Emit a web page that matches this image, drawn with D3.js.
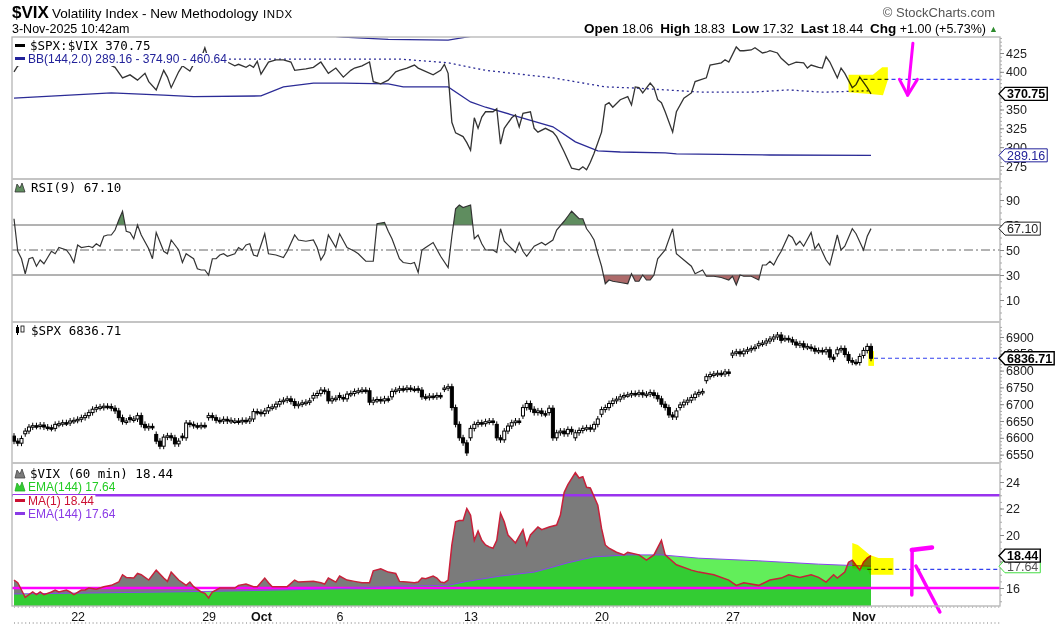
<!DOCTYPE html>
<html>
<head>
<meta charset="utf-8">
<script src="https://cdn.jsdelivr.net/npm/d3@7/dist/d3.min.js"></script>
<style>
  body { margin: 0; background: #fff; }
  svg { display: block; font-family: "Liberation Sans", Arial, sans-serif; }
  .mono { font-family: "DejaVu Sans Mono", monospace; }
</style>
</head>
<body>
<svg id="chart" width="1062" height="625"></svg>
<script>
// bar index = one 60-min bar, 0 = Sep 17 afternoon, 229 = Nov 3 10:30
const ratioPts = [[0,400],[1,408],[7,416],[15,413],[22,418],[27,406],[29,392],[31,396],[33,389],[35,398],[36,387],[38,376],[40,402],[41,393],[42,379],[44,400],[45,408],[47,401],[48,410],[50,418],[51,432],[52,416],[54,418],[57,413],[59,408],[60,410],[62,406],[63,409],[64,406],[65,414],[66,397],[68,413],[70,416],[72,416],[74,413],[75,402],[78,404],[80,406],[82,413],[84,398],[86,405],[88,393],[90,402],[91,405],[93,408],[95,413],[96,387],[98,384],[100,389],[102,400],[103,402],[105,405],[107,409],[108,405],[112,396],[114,402],[115,410],[116,398],[117,333],[118,319],[120,314],[121,306],[122,296],[123,339],[124,325],[125,340],[126,347],[128,347],[129,351],[130,304],[131,325],[133,339],[134,343],[135,327],[136,345],[138,347],[139,325],[140,320],[142,325],[144,320],[145,314],[147,294],[148,283],[149,272],[151,270],[152,274],[153,270],[154,280],[155,292],[157,320],[158,356],[159,359],[160,353],[162,363],[164,367],[165,356],[166,380],[167,379],[168,372],[170,385],[171,379],[172,363],[173,359],[174,347],[176,320],[177,347],[179,365],[181,372],[182,387],[185,392],[186,409],[187,410],[189,412],[190,416],[191,413],[193,433],[194,428],[195,428],[197,429],[198,432],[200,425],[201,426],[202,428],[204,425],[205,418],[207,409],[209,413],[211,412],[212,405],[213,409],[215,406],[216,405],[217,420],[218,413],[220,392],[221,405],[222,398],[224,379],[225,383],[226,393],[228,379],[229,370.75]];
const bbUpper = [[0,461],[48,467],[72,454],[88,446],[100,443],[116,442],[122,447],[126,452],[144,457],[150,467],[166,465],[184,454],[207,462],[229,460.64]];
const bbMid = [[0,413],[30,416],[57,417],[76,417],[103,417],[116,412],[126,402],[144,392],[158,380],[166,378.5],[184,373],[197,373],[207,376],[216,373],[229,374.9]];
const bbLower = [[0,365],[26,372],[40,369],[48,367],[66,368],[72,380],[80,385],[88,385],[100,384],[104,380],[116,380],[122,360],[126,353],[133,343],[144,327],[150,307],[156,295],[162,293.6],[174,292.3],[177,291],[202,289.6],[229,289.16]];

const rsiPts = [[0,75],[1,49],[2,43],[3,31],[4,43],[5,44],[6,37],[7,42],[8,39],[9,44],[10,49],[11,47],[12,52],[14,50],[15,46],[16,40],[17,54],[18,52],[20,53],[21,52],[22,55],[23,53],[24,61],[25,62],[26,62],[27,66],[28,74],[29,81],[30,65],[31,64],[32,59],[33,70],[34,62],[36,51],[37,43],[38,64],[40,49],[41,47],[42,58],[44,50],[45,40],[46,47],[48,43],[49,35],[50,34],[51,34],[52,30],[53,43],[54,43],[55,46],[56,47],[57,45],[59,47],[60,52],[61,50],[62,54],[63,55],[64,46],[65,45],[67,63],[68,47],[70,46],[72,44],[73,49],[75,62],[76,58],[78,57],[80,58],[81,52],[82,42],[83,47],[84,62],[86,52],[87,63],[89,52],[91,49],[92,47],[94,41],[96,41],[97,71],[99,72],[100,65],[101,59],[103,43],[104,40],[106,39],[107,40],[108,32],[109,50],[110,52],[112,56],[114,45],[116,36],[117,61],[118,83],[119,86],[120,84],[122,86],[123,59],[124,62],[125,55],[126,50],[128,50],[129,48],[130,67],[131,57],[133,51],[134,48],[135,56],[136,49],[137,45],[139,53],[141,56],[142,54],[144,58],[145,66],[147,73],[148,77],[149,81],[151,75],[152,75],[153,67],[154,63],[155,58],[156,47],[157,37],[158,23],[159,26],[160,25],[162,24],[164,23],[165,31],[166,25],[167,25],[168,30],[169,26],[170,26],[171,30],[172,43],[174,50],[176,67],[177,47],[179,42],[181,37],[182,31],[184,34],[185,29],[187,29],[189,28],[191,26],[192,29],[193,22],[194,30],[195,29],[197,29],[199,26],[200,38],[201,38],[202,41],[203,38],[204,44],[205,49],[207,62],[208,60],[209,54],[210,57],[211,53],[213,64],[214,51],[215,55],[217,42],[218,38],[219,50],[220,62],[221,50],[222,53],[224,67],[225,63],[227,50],[228,61],[229,67.1]];

// $SPX hourly closes, one row per session
const spxClose = [
  6590, 6584, 6598,
  6620, 6632, 6636, 6634, 6638, 6632, 6630,
  6628, 6640, 6642, 6645, 6644, 6650, 6652,
  6655, 6660, 6666, 6675, 6685, 6690, 6692,
  6694, 6693, 6688, 6680, 6660, 6648, 6650,
  6654, 6656, 6666, 6640, 6630, 6634, 6632,
  6590, 6575, 6602, 6606, 6600, 6582, 6590,
  6600, 6644, 6640, 6636, 6634, 6637, 6636,
  6666, 6660, 6652, 6650, 6655, 6650, 6652,
  6650, 6648, 6652, 6650, 6656, 6678, 6676,
  6672, 6680, 6690, 6692, 6700, 6708, 6712,
  6716, 6708, 6696, 6700, 6704, 6706, 6710,
  6726, 6732, 6742, 6738, 6710, 6716, 6718,
  6720, 6716, 6730, 6732, 6738, 6740, 6742,
  6740, 6706, 6712, 6714, 6710, 6716, 6714,
  6738, 6742, 6746, 6744, 6748, 6745, 6744,
  6742, 6722, 6720, 6724, 6722, 6726, 6724,
  6748, 6752, 6690, 6640, 6600, 6585, 6555,
  6628, 6640, 6645, 6642, 6648, 6650, 6646,
  6600, 6594, 6620, 6635, 6645, 6650, 6648,
  6690, 6702, 6685, 6675, 6680, 6672, 6670,
  6688, 6600, 6615, 6620, 6612, 6625, 6618,
  6615, 6622, 6628, 6630, 6626, 6640, 6656,
  6684, 6690, 6702, 6710, 6715, 6722, 6726,
  6728, 6732, 6730, 6734, 6728, 6730, 6735,
  6726, 6716, 6700, 6690, 6668, 6662, 6680,
  6698, 6706, 6712, 6720, 6730, 6735, 6738,
  6782, 6788, 6790, 6792, 6790, 6796, 6792,
  6852, 6856, 6850, 6858, 6862, 6866, 6870,
  6880, 6882, 6888, 6894, 6900, 6906, 6890,
  6896, 6892, 6885, 6876, 6880, 6870, 6872,
  6866, 6858, 6860, 6856, 6862, 6840, 6834,
  6862, 6866, 6848, 6830, 6825, 6824, 6842,
  6860, 6872, 6836.71
];
// opening print of each session (first bar of the day)
const spxDayOpen = [6605, 6612, 6630, 6652, 6690, 6660, 6610, 6605, 6660, 6650, 6676, 6712, 6718, 6726, 6742, 6722, 6746, 6745, 6600, 6640, 6665, 6675, 6600, 6670, 6728, 6734, 6690, 6770, 6846, 6874, 6894, 6870, 6850, 6845];

const vixPts = [[0,16.6],[1,16.4],[2,15.85],[3,15.3],[5,15.7],[6,15.5],[7,15.7],[8,15.5],[10,15.7],[11,15.85],[12,15.7],[14,15.85],[15,15.7],[16,15.5],[18,15.85],[19,15.85],[20,16.0],[22,15.9],[24,16.1],[26,16.2],[28,16.45],[29,17.0],[30,16.8],[32,16.75],[33,17.1],[34,17.0],[36,16.6],[38,17.35],[40,16.75],[41,16.5],[42,17.2],[44,16.6],[46,16.2],[47,16.45],[48,16.1],[50,15.7],[51,15.6],[52,15.25],[53,15.7],[55,16.0],[57,16.0],[59,16.0],[60,16.2],[62,16.3],[64,16.1],[65,16.1],[67,16.75],[68,16.4],[69,16.1],[71,16.1],[73,16.1],[75,16.6],[76,16.45],[80,16.5],[82,16.4],[83,16.3],[84,16.75],[86,16.45],[87,16.9],[89,16.6],[91,16.5],[93,16.4],[95,16.4],[96,17.3],[98,17.45],[100,17.2],[102,17.1],[103,16.5],[105,16.45],[107,16.4],[108,16.45],[109,16.75],[110,16.7],[112,16.9],[113,16.75],[114,16.45],[115,16.4],[116,16.6],[117,19.25],[118,21.0],[119,21.1],[120,21.1],[121,22.0],[122,21.5],[123,19.6],[124,20.3],[125,19.6],[126,19.25],[127,19.1],[128,19.0],[129,19.6],[130,21.65],[131,21.0],[132,20.0],[134,19.4],[136,20.4],[137,19.25],[138,20.0],[140,20.6],[141,20.4],[143,20.6],[145,20.75],[146,21.5],[147,23.2],[148,23.8],[150,24.7],[151,24.3],[152,24.4],[153,23.6],[154,23.55],[156,22.25],[157,20.5],[158,19.25],[159,19.0],[161,18.7],[163,18.5],[164,18.7],[167,18.5],[169,18.1],[171,18.5],[173,19.6],[174,18.5],[177,17.75],[181,17.35],[183,17.2],[187,17.0],[191,16.6],[193,16.2],[195,16.4],[199,16.2],[202,16.6],[205,16.75],[207,17.0],[210,16.8],[213,17.0],[215,16.8],[217,16.45],[219,17.0],[220,16.75],[222,17.2],[223,17.95],[224,18.1],[226,17.35],[227,17.95],[228,18.25],[229,18.44]];
const vixEma = [[0,15.55],[27,15.65],[53,15.75],[80,15.9],[92,16.0],[104,16.15],[116,16.2],[121,16.5],[130,16.9],[139,17.2],[143,17.5],[148,17.9],[155,18.35],[164,18.5],[173,18.5],[183,18.25],[199,18.05],[215,17.8],[229,17.64]];

const xTickBars = [17, 52, 66, 87, 122, 157, 192, 227];
const xTickLabels = ["22", "29", "Oct", "6", "13", "20", "27", "Nov"];
const ratioTicks = [275, 300, 325, 350, 375, 400, 425];
const rsiTicks = [10, 30, 50, 70, 90];
const spxTicks = [6550, 6600, 6650, 6700, 6750, 6800, 6850, 6900];
const vixTicks = [16, 18, 20, 22, 24];
// tick labels that sit fully under a value tag in the original
const hiddenTickLabels = [375, 18];

// hand-drawn markup on the chart (bar, value)
const ratioMarkLevel = 390, vixMarkLevel = 17.4;
const yellowRatio = [[223,396],[229.5,396],[232,406],[233.5,406],[233.5,389],[232.2,369],[228.7,370.5],[223,373]];
const yellowVix = [[224,19.4],[225.5,19.25],[228.7,18.5],[231,18.26],[235,18.26],[235,17.0],[228.7,17.0],[228.2,17.36],[224,17.5]];
const yellowSpx = [[228.3,6858],[229.8,6858],[229.8,6814],[228.3,6814]];
const arrowRatio = [[[240.2,438],[238.8,369]], [[236.6,390],[238.8,369],[241.4,390]]];
const squiggleVix = [[[239.9,18.87],[242,18.95],[245.3,19.05]], [[240,18.9],[239.9,15.47]], [[241,17.66],[247.4,14.19]]];

const svg = d3.select("#chart");
const L = 12, R = 1000;
const panels = [
  {top: 37, bottom: 179},
  {top: 179, bottom: 322},
  {top: 322, bottom: 463},
  {top: 463, bottom: 606}
];

const x = d3.scaleLinear().domain([0, 229]).range([14, 871]);
const y1 = d3.scaleLinear().domain([275, 425]).range([166, 53]);
const y2 = d3.scaleLinear().domain([30, 70]).range([275, 225]);
const y3 = d3.scaleLinear().domain([6550, 6900]).range([454.6, 337]);
const y4 = d3.scaleLinear().domain([16, 24]).range([588, 482]);

const lineOf = ys => d3.line().x(d => x(d[0])).y(d => ys(d[1]));

const defs = svg.append("defs");
panels.forEach((p, k) => {
  defs.append("clipPath").attr("id", "clip" + k)
    .append("rect").attr("x", L).attr("y", p.top).attr("width", R - L).attr("height", p.bottom - p.top);
});
defs.append("clipPath").attr("id", "rsiHi")
  .append("rect").attr("x", L).attr("y", panels[1].top).attr("width", R - L).attr("height", y2(70) - panels[1].top);
defs.append("clipPath").attr("id", "rsiLo")
  .append("rect").attr("x", L).attr("y", y2(30)).attr("width", R - L).attr("height", panels[1].bottom - y2(30));

// ---------- panel 1: $SPX:$VIX with Bollinger bands ----------
const g1 = svg.append("g").attr("clip-path", "url(#clip0)");
const l1 = lineOf(y1);
[[bbUpper, null], [bbMid, "2,3"], [bbLower, null]].forEach(([d, dash]) => {
  g1.append("path").datum(d).attr("d", l1).attr("fill", "none")
    .attr("stroke", "#2b2b96").attr("stroke-width", 1.3).attr("stroke-dasharray", dash);
});
g1.append("line").attr("x1", x(227)).attr("x2", R)
  .attr("y1", y1(ratioMarkLevel)).attr("y2", y1(ratioMarkLevel))
  .attr("stroke", "#3340ee").attr("stroke-width", 1.2).attr("stroke-dasharray", "4,3");
g1.append("path").datum(ratioPts).attr("d", l1).attr("fill", "none")
  .attr("stroke", "#333").attr("stroke-width", 1.3);

// ---------- panel 2: RSI(9) ----------
const g2 = svg.append("g").attr("clip-path", "url(#clip1)");
g2.append("g").attr("clip-path", "url(#rsiHi)").append("path").datum(rsiPts)
  .attr("d", d3.area().x(d => x(d[0])).y0(y2(70)).y1(d => y2(d[1])))
  .attr("fill", "#5f8d5f");
g2.append("g").attr("clip-path", "url(#rsiLo)").append("path").datum(rsiPts)
  .attr("d", d3.area().x(d => x(d[0])).y0(y2(30)).y1(d => y2(d[1])))
  .attr("fill", "#ad6a6a");
[[70, null], [50, "9,3,2,3"], [30, null]].forEach(([v, dash]) => {
  g2.append("line").attr("x1", L).attr("x2", R).attr("y1", y2(v)).attr("y2", y2(v))
    .attr("stroke", "#666").attr("stroke-width", 1).attr("stroke-dasharray", dash);
});
g2.append("path").datum(rsiPts).attr("d", lineOf(y2)).attr("fill", "none")
  .attr("stroke", "#333").attr("stroke-width", 1.2);

// ---------- panel 3: $SPX candles ----------
const g3 = svg.append("g").attr("clip-path", "url(#clip2)");
const candles = spxClose.map((c, i) => {
  const dayStart = i === 0 || (i >= 3 && (i - 3) % 7 === 0);
  const day = i === 0 ? 0 : Math.floor((i - 3) / 7) + 1;
  const o = dayStart ? spxDayOpen[day] : spxClose[i - 1];
  return {i, o, c};
});
g3.append("line").attr("x1", x(229) + 3).attr("x2", R)
  .attr("y1", y3(6836.71)).attr("y2", y3(6836.71))
  .attr("stroke", "#3340ee").attr("stroke-width", 1.2).attr("stroke-dasharray", "4,3");
const cg = g3.selectAll("g.candle").data(candles).enter().append("g").attr("class", "candle");
cg.append("line")
  .attr("x1", d => x(d.i)).attr("x2", d => x(d.i))
  .attr("y1", d => y3(Math.max(d.o, d.c)) - 3).attr("y2", d => y3(Math.min(d.o, d.c)) + 3)
  .attr("stroke", "#000").attr("stroke-width", 1);
cg.append("rect")
  .attr("x", d => x(d.i) - 1.5).attr("width", 3)
  .attr("y", d => y3(Math.max(d.o, d.c)))
  .attr("height", d => Math.max(1.5, y3(Math.min(d.o, d.c)) - y3(Math.max(d.o, d.c))))
  .attr("fill", d => d.c >= d.o ? "#fff" : "#000")
  .attr("stroke", "#000").attr("stroke-width", 1);

// ---------- panel 4: $VIX (60 min) ----------
const g4 = svg.append("g").attr("clip-path", "url(#clip3)");
const area4 = d3.area().x(d => x(d[0])).y0(panels[3].bottom).y1(d => y4(d[1]));
g4.append("path").datum(vixEma).attr("d", area4).attr("fill", "#62ee5a");
g4.append("path").datum(vixPts).attr("d", area4).attr("fill", "#7b7b7b");
defs.append("clipPath").attr("id", "vixClip").append("path").datum(vixPts).attr("d", area4);
g4.append("g").attr("clip-path", "url(#vixClip)").append("path").datum(vixEma)
  .attr("d", area4).attr("fill", "#33cc33");
[[23, "#9933ee"], [16, "#ff00ff"]].forEach(([v, col]) => {
  g4.append("line").attr("x1", L).attr("x2", R).attr("y1", y4(v)).attr("y2", y4(v))
    .attr("stroke", col).attr("stroke-width", 2.5);
});
g4.append("path").datum(vixEma).attr("d", lineOf(y4)).attr("fill", "none")
  .attr("stroke", "#8a44ee").attr("stroke-width", 1);
g4.append("path").datum(vixPts).attr("d", lineOf(y4)).attr("fill", "none")
  .attr("stroke", "#c8203a").attr("stroke-width", 1.5);
g4.append("line").attr("x1", x(228)).attr("x2", R)
  .attr("y1", y4(vixMarkLevel)).attr("y2", y4(vixMarkLevel))
  .attr("stroke", "#3340ee").attr("stroke-width", 1.2).attr("stroke-dasharray", "4,3");

// ---------- highlighter + pen marks ----------
const hl = svg.append("g").style("mix-blend-mode", "multiply");
[[yellowRatio, y1], [yellowVix, y4], [yellowSpx, y3]].forEach(([pts, ys]) => {
  hl.append("path").datum(pts).attr("d", d => lineOf(ys)(d) + "Z")
    .attr("fill", "#ffff00").attr("stroke", "none").style("mix-blend-mode", "multiply");
});
const pen = svg.append("g").attr("fill", "none").attr("stroke", "#ff00ff")
  .attr("stroke-linecap", "round").attr("stroke-linejoin", "round");
arrowRatio.forEach(s => pen.append("path").datum(s).attr("d", lineOf(y1)).attr("stroke-width", 3));
squiggleVix.forEach((s, k) => pen.append("path").datum(s).attr("d", lineOf(y4)).attr("stroke-width", k === 0 ? 4.5 : 3.5));

// ---------- frame ----------
svg.append("rect").attr("x", L).attr("y", panels[0].top).attr("width", R - L)
  .attr("height", panels[3].bottom - panels[0].top)
  .attr("fill", "none").attr("stroke", "#b4b4b4").attr("stroke-width", 1.3);
panels.slice(1).forEach(p => {
  svg.append("line").attr("x1", L).attr("x2", R).attr("y1", p.top).attr("y2", p.top)
    .attr("stroke", "#c4c4c4").attr("stroke-width", 2);
});

// ---------- legends ----------
function legend(y, tx, label, o) {
  const g = svg.append("g");
  const t = g.append("text").attr("x", tx).attr("y", y).attr("fill", o.color)
    .attr("font-size", o.mono ? 12.5 : 12).attr("class", o.mono ? "mono" : null).text(label);
  const bb = t.node().getBBox();
  g.insert("rect", "text").attr("x", L + 1).attr("y", bb.y + 1)
    .attr("width", bb.x + bb.width - L).attr("height", bb.height - 1).attr("fill", "#fff");
  if (o.icon === "bar") {
    g.append("rect").attr("x", 15).attr("y", y - 6).attr("width", 10).attr("height", 3).attr("fill", o.iconColor);
  } else if (o.icon === "mount") {
    g.append("path").attr("d", `M15,${y}L17,${y-8}L20,${y-4}L22,${y-9}L25,${y}Z`)
      .attr("fill", o.iconColor).attr("stroke", o.iconStroke).attr("stroke-width", 0.8);
  } else if (o.icon === "candle") {
    g.append("rect").attr("x", 16).attr("y", y - 8).attr("width", 3).attr("height", 6).attr("fill", "#000");
    g.append("rect").attr("x", 21).attr("y", y - 9).attr("width", 3).attr("height", 6).attr("fill", "#fff").attr("stroke", "#000").attr("stroke-width", 0.8);
    g.append("line").attr("x1", 17.5).attr("x2", 17.5).attr("y1", y - 10).attr("y2", y).attr("stroke", "#000");
  }
}
legend(50, 30, "$SPX:$VIX 370.75", {mono: true, color: "#000", icon: "bar", iconColor: "#000"});
legend(63, 28, "BB(144,2.0) 289.16 - 374.90 - 460.64", {color: "#22229a", icon: "bar", iconColor: "#22229a"});
legend(192, 31, "RSI(9) 67.10", {mono: true, color: "#000", icon: "mount", iconColor: "#5f8d5f", iconStroke: "#333"});
legend(335, 31, "$SPX 6836.71", {mono: true, color: "#000", icon: "candle"});
legend(478, 30, "$VIX (60 min) 18.44", {mono: true, color: "#000", icon: "mount", iconColor: "#7b7b7b", iconStroke: "#444"});
legend(491, 28, "EMA(144) 17.64", {color: "#22cc22", icon: "mount", iconColor: "#33cc33", iconStroke: "#22aa22"});
legend(505, 28, "MA(1) 18.44", {color: "#cc1133", icon: "bar", iconColor: "#cc1133"});
legend(518, 28, "EMA(144) 17.64", {color: "#8a3ae6", icon: "bar", iconColor: "#8a3ae6"});

// ---------- right axes ----------
function rightAxis(scale, ticks, minor) {
  const gm = svg.append("g").attr("transform", `translate(${R},0)`)
    .call(d3.axisRight(scale).tickValues(minor).tickSize(2).tickFormat(""));
  gm.select(".domain").remove();
  gm.selectAll("line").attr("stroke", "#aaa");
  const ga = svg.append("g").attr("transform", `translate(${R},0)`)
    .call(d3.axisRight(scale).tickValues(ticks).tickSize(4).tickPadding(2)
      .tickFormat(d => hiddenTickLabels.includes(d) ? "" : d3.format("d")(d)));
  ga.select(".domain").remove();
  ga.attr("font-family", "Liberation Sans, Arial, sans-serif").attr("font-size", 12.5);
  ga.selectAll("line").attr("stroke", "#888");
  ga.selectAll("text").attr("fill", "#222");
}
rightAxis(y1, ratioTicks, d3.range(265, 446, 5));
rightAxis(y2, rsiTicks, d3.range(-5, 106, 5));
rightAxis(y3, spxTicks, d3.range(6530, 6940, 10));
rightAxis(y4, vixTicks, d3.range(15, 25.5, 0.5));

// value tags
function tag(y, label, o) {
  const g = svg.append("g");
  const t = g.append("text").attr("x", R + 7).attr("y", y).attr("dy", "0.36em")
    .attr("font-size", 12.5).attr("font-weight", o.bold ? "bold" : "normal")
    .attr("fill", o.text).text(label);
  const w = t.node().getComputedTextLength();
  g.insert("path", "text")
    .attr("d", `M${R - 1},${y} L${R + 5},${y - 6.5} H${R + 9 + w} V${y + 6.5} H${R + 5} Z`)
    .attr("fill", "#fff").attr("stroke", o.stroke).attr("stroke-width", o.bold ? 1.4 : 1);
}
tag(y1(370.75), "370.75", {bold: true, text: "#000", stroke: "#000"});
tag(y1(289.16), "289.16", {text: "#22229a", stroke: "#22229a"});
tag(y2(67.1), "67.10", {text: "#222", stroke: "#222"});
tag(y3(6836.71), "6836.71", {bold: true, text: "#000", stroke: "#000"});
tag(y4(17.64), "17.64", {text: "#555", stroke: "#44dd44"});
tag(y4(18.44), "18.44", {bold: true, text: "#000", stroke: "#000"});

// ---------- bottom date axis ----------
[panels[3].bottom, 622].forEach(yy => {
  const gt = svg.append("g").attr("transform", `translate(0,${yy})`)
    .call(d3.axisBottom(x).tickValues(d3.range(0, 264)).tickSize(2).tickFormat(""));
  gt.select(".domain").remove();
  gt.selectAll("line").attr("stroke", "#bbb");
});
const gx = svg.append("g").attr("transform", `translate(0,${panels[3].bottom + 3})`)
  .call(d3.axisBottom(x).tickValues(xTickBars).tickSize(0).tickPadding(3)
    .tickFormat((d, i) => xTickLabels[i]));
gx.select(".domain").remove();
gx.attr("font-family", "Liberation Sans, Arial, sans-serif").attr("font-size", 12.5);
gx.selectAll("text").attr("fill", "#111")
  .attr("font-weight", (d, i) => /^[A-Z]/.test(xTickLabels[i]) ? "bold" : "normal");

// ---------- header ----------
svg.append("text").attr("x", 12).attr("y", 18).attr("font-size", 17).attr("font-weight", "bold").text("$VIX");
svg.append("text").attr("x", 52).attr("y", 18).attr("font-size", 13.5).text("Volatility Index - New Methodology");
svg.append("text").attr("x", 263).attr("y", 18).attr("font-size", 11.5).attr("letter-spacing", 0.6).text("INDX");
svg.append("text").attr("x", 12).attr("y", 33).attr("font-size", 12.5).text("3-Nov-2025 10:42am");
svg.append("text").attr("x", 995).attr("y", 17).attr("text-anchor", "end")
  .attr("font-size", 13).attr("fill", "#555").text("\u00a9 StockCharts.com");
const quote = [["Open", true], [" 18.06  ", false], ["High", true], [" 18.83  ", false], ["Low", true],
  [" 17.32  ", false], ["Last", true], [" 18.44  ", false], ["Chg", true], [" +1.00 (+5.73%)", false]];
const qt = svg.append("text").attr("x", 986).attr("y", 33).attr("text-anchor", "end")
  .attr("font-size", 12.5).style("white-space", "pre");
quote.forEach(([s, b]) => qt.append("tspan").attr("font-weight", b ? "bold" : "normal")
  .attr("font-size", b ? 13.5 : 12.5).text(s));
svg.append("text").attr("x", 989).attr("y", 32).attr("font-size", 9).attr("fill", "#2e8b2e").text("\u25b2");
</script>
</body>
</html>
